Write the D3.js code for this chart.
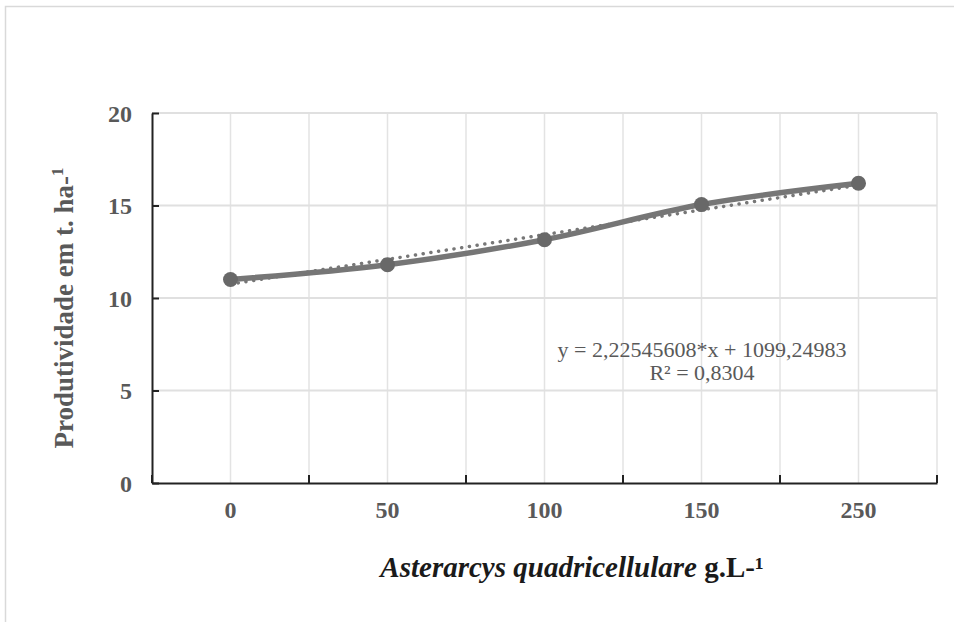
<!DOCTYPE html>
<html>
<head>
<meta charset="utf-8">
<script src="https://cdn.jsdelivr.net/npm/d3@7"></script>
<style>
    body { margin: 0; background: #fff; }
    svg { display: block; }
    text { font-family: "Liberation Serif", "Times New Roman", serif; }
</style>
</head>
<body>
<div class="wrapper"></div>
<script>
// chart values
let categories = ["0", "50", "100", "150", "250"];
let produtividade = [11.0, 11.8, 13.15, 15.05, 16.2];
let trendEnds = [10.75, 16.1];   // dotted linear trendline, first and last category
let yTicks = [0, 5, 10, 15, 20];
let equationLines = ["y = 2,22545608*x + 1099,24983", "R\u00B2 = 0,8304"];

let width = 954;
let height = 622;
let plot = {left: 152, right: 937, top: 113, bottom: 483};

let svg = d3.select(".wrapper")
    .append("svg")
    .attr("width", width)
    .attr("height", height);

// outer frame
svg.append("rect")
    .attr("x", 5.5)
    .attr("y", 6.5)
    .attr("width", 980)
    .attr("height", 700)
    .attr("fill", "none")
    .attr("stroke", "#d9d9d9")
    .attr("stroke-width", 1.5);

let x = d3.scaleBand()
    .domain(categories)
    .range([plot.left, plot.right]);

let y = d3.scaleLinear()
    .domain([0, 20])
    .range([plot.bottom, plot.top]);

let bw = x.bandwidth();
let cx = function (c) {return x(c) + bw / 2};

// gridlines
let grid = svg.append("g").attr("class", "grid");
let vLines = [];
categories.forEach(function (c) {vLines.push(x(c)); vLines.push(cx(c));});
vLines.push(plot.right);
grid.selectAll(".vgrid")
    .data(vLines.slice(1))
    .enter()
    .append("line")
    .attr("x1", function (d) {return d})
    .attr("x2", function (d) {return d})
    .attr("y1", plot.top)
    .attr("y2", plot.bottom)
    .attr("stroke", "#e3e3e3")
    .attr("stroke-width", 1.5);

grid.selectAll(".hgrid")
    .data(yTicks.slice(1))
    .enter()
    .append("line")
    .attr("x1", plot.left)
    .attr("x2", plot.right)
    .attr("y1", function (d) {return y(d)})
    .attr("y2", function (d) {return y(d)})
    .attr("stroke", "#e0e0e0")
    .attr("stroke-width", 1.8);

// y axis
let yAxis = svg.append("g")
    .attr("transform", "translate(" + plot.left + ",0)")
    .call(d3.axisLeft(y).tickValues(yTicks).tickSize(-7).tickPadding(20).tickSizeOuter(0));
yAxis.select(".domain").attr("stroke", "#222").attr("stroke-width", 2);
yAxis.selectAll(".tick line").attr("stroke", "#222").attr("stroke-width", 2);
yAxis.selectAll(".tick text")
    .attr("dy", "0.34em")
    .attr("font-size", 24)
    .attr("font-weight", "bold")
    .attr("fill", "#595959");

// x axis: labels on band centres, tick marks on band edges
let xAxis = svg.append("g")
    .attr("transform", "translate(0," + plot.bottom + ")")
    .call(d3.axisBottom(x).tickSize(0).tickPadding(0));
xAxis.select(".domain").attr("stroke", "#222").attr("stroke-width", 2);
xAxis.selectAll(".tick text")
    .attr("y", 35)
    .attr("dy", null)
    .attr("font-size", 24)
    .attr("font-weight", "bold")
    .attr("fill", "#595959");

let edges = categories.map(function (c) {return x(c)}).concat([plot.right]);
xAxis.selectAll(".edge")
    .data(edges)
    .enter()
    .append("line")
    .attr("x1", function (d) {return d})
    .attr("x2", function (d) {return d})
    .attr("y1", 0)
    .attr("y2", -8)
    .attr("stroke", "#222")
    .attr("stroke-width", 2);

// dotted trendline
svg.append("line")
    .attr("x1", cx(categories[0]))
    .attr("y1", y(trendEnds[0]))
    .attr("x2", cx(categories[categories.length - 1]))
    .attr("y2", y(trendEnds[1]))
    .attr("stroke", "#777")
    .attr("stroke-width", 3.5)
    .attr("stroke-dasharray", "0.1,7.7")
    .attr("stroke-linecap", "round");

// smoothed series line
let line = d3.line()
    .x(function (d, i) {return cx(categories[i])})
    .y(function (d) {return y(d)})
    .curve(d3.curveCatmullRom.alpha(0.5));

svg.append("path")
    .datum(produtividade)
    .attr("d", line)
    .attr("fill", "none")
    .attr("stroke", "#767676")
    .attr("stroke-width", 5.5)
    .attr("stroke-linecap", "round");

svg.selectAll(".marker")
    .data(produtividade)
    .enter()
    .append("circle")
    .classed("marker", true)
    .attr("cx", function (d, i) {return cx(categories[i])})
    .attr("cy", function (d) {return y(d)})
    .attr("r", 7.5)
    .attr("fill", "#686868");

// regression equation
svg.selectAll(".equation")
    .data(equationLines)
    .enter()
    .append("text")
    .classed("equation", true)
    .attr("text-anchor", "middle")
    .attr("x", 702)
    .attr("y", function (d, i) {return 357 + i * 23})
    .attr("font-size", 22)
    .attr("fill", "#595959")
    .text(function (d) {return d});

// axis titles
let yTitle = svg.append("text")
    .attr("text-anchor", "middle")
    .attr("transform", "translate(73,308) rotate(-90)")
    .attr("font-size", 27)
    .attr("font-weight", "bold")
    .attr("fill", "#595959");
yTitle.append("tspan").text("Produtividade em t. ha-");
yTitle.append("tspan").attr("font-size", 17).attr("dy", -10).text("1");

let xTitle = svg.append("text")
    .attr("text-anchor", "middle")
    .attr("transform", "translate(572,577)")
    .attr("font-size", 29)
    .attr("font-weight", "bold")
    .attr("fill", "#1a1a1a");
xTitle.append("tspan").attr("font-style", "italic").text("Asterarcys quadricellulare");
xTitle.append("tspan").text(" g.L-\u00B9");
</script>
</body>
</html>
